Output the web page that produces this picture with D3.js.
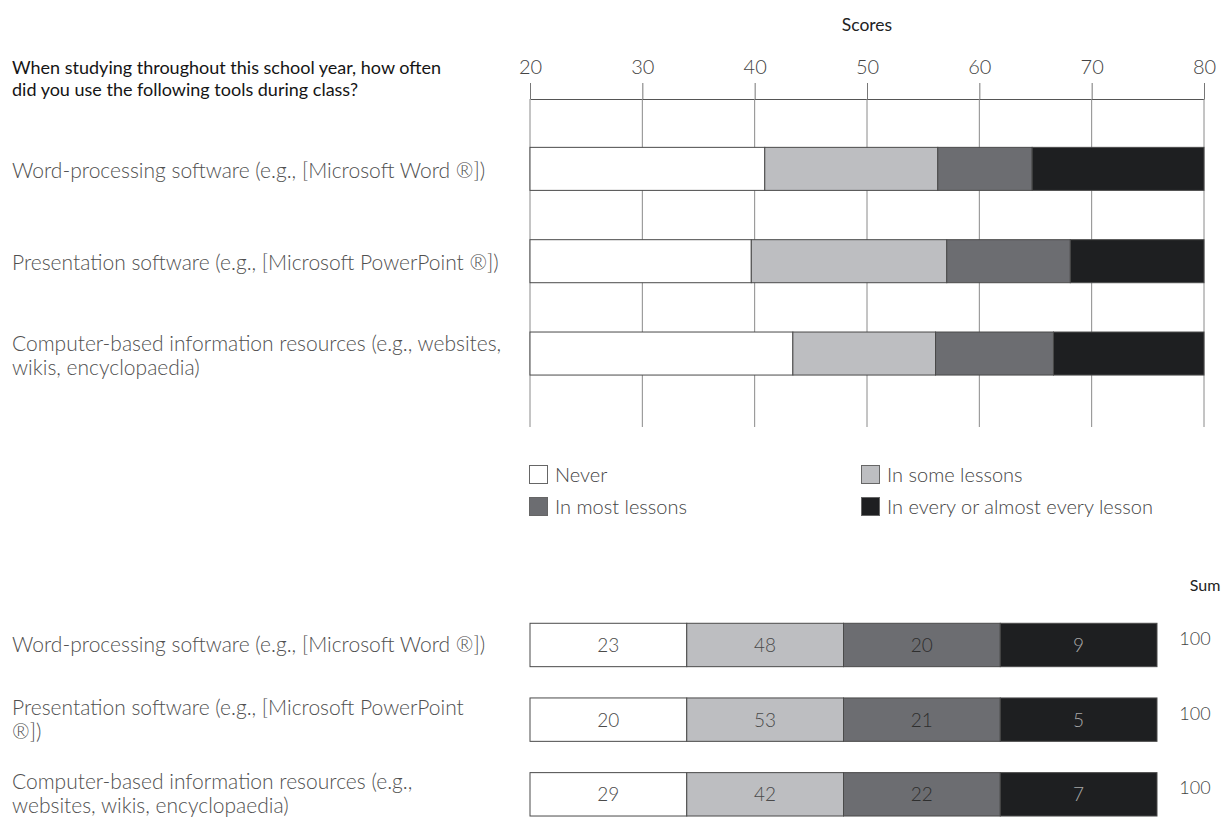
<!DOCTYPE html>
<html><head><meta charset="utf-8">
<script src="https://cdn.jsdelivr.net/npm/d3@7"></script>
<style>body{margin:0;background:#fff} svg{display:block} text{font-family:Lato,"Noto Sans",sans-serif}</style>
</head><body><svg id="c" width="1226" height="819"></svg>
<script>
// ---- data ----
const categories = ["Word-processing", "Presentation", "Computer-based"];
const topLabels = [
  ["Word-processing software (e.g., [Microsoft Word ®])"],
  ["Presentation software (e.g., [Microsoft PowerPoint ®])"],
  ["Computer-based information resources (e.g., websites,", "wikis, encyclopaedia)"]
];
const bottomLabels = [
  ["Word-processing software (e.g., [Microsoft Word ®])"],
  ["Presentation software (e.g., [Microsoft PowerPoint", "®])"],
  ["Computer-based information resources (e.g.,", "websites, wikis, encyclopaedia)"]
];
const responses = ["Never", "In some lessons", "In most lessons", "In every or almost every lesson"];
const scoreNever = [40.9, 39.7, 43.4];
const scoreSome  = [56.3, 57.1, 56.1];
const scoreMost  = [64.7, 68.1, 66.6];
const scoreEvery = [80, 80, 80];
const pctNever = [23, 20, 29];
const pctSome  = [48, 53, 42];
const pctMost  = [20, 21, 22];
const pctEvery = [9, 5, 7];
const sums = [100, 100, 100];
const scoreTicks = [20, 30, 40, 50, 60, 70, 80];
const title = ["When studying throughout this school year, how often", "did you use the following tools during class?"];
const axisTitle = "Scores";
const sumTitle = "Sum";

// ---- styles ----
const fills = ["#ffffff", "#bdbec1", "#6c6d71", "#1e1f21"];
const pctText = ["#4a4a4a", "#4a4a4a", "#2e2e2e", "#a8a8a8"];
const labelColor = "#505050";

const svg = d3.select("#c");

// ---- top chart ----
const x = d3.scaleLinear().domain([20, 80]).range([530, 1204]);
const y = d3.scaleBand().domain(categories).range([122.7, 399.7]).paddingInner(0.534).paddingOuter(0.267);
const axisY = 99, gridBottom = 427;

svg.append("text").attr("x", (x(20) + x(80)) / 2).attr("y", 31).attr("text-anchor", "middle")
  .attr("font-size", 17.5).attr("fill", "#222").text(axisTitle);

const gAxis = svg.append("g").attr("transform", `translate(0,${axisY})`)
  .call(d3.axisTop(x).tickValues(scoreTicks).tickSize(16).tickSizeOuter(0).tickPadding(9));
gAxis.select(".domain").attr("stroke", "#555");
gAxis.selectAll(".tick line").attr("stroke", "#777");
gAxis.selectAll(".tick text").attr("font-family", "Lato").attr("font-weight", 300)
  .attr("font-size", 20).attr("fill", "#444");

svg.append("g").selectAll("line").data(scoreTicks).join("line")
  .attr("x1", d => x(d)).attr("x2", d => x(d)).attr("y1", axisY).attr("y2", gridBottom)
  .attr("stroke", "#8a8a8a").attr("stroke-width", 1);

const ends = [scoreNever, scoreSome, scoreMost, scoreEvery];
const segs = [];
categories.forEach((c, i) => {
  let start = x.domain()[0];
  ends.forEach((arr, k) => {
    segs.push({c, k, s: start, e: arr[i]});
    start = arr[i];
  });
});
svg.append("g").selectAll("rect").data(segs).join("rect")
  .attr("x", d => x(d.s)).attr("width", d => x(d.e) - x(d.s))
  .attr("y", d => y(d.c)).attr("height", y.bandwidth())
  .attr("fill", d => fills[d.k]).attr("stroke", "#4a4a4a").attr("stroke-width", 1);

svg.append("text").attr("font-size", 18).attr("fill", "#151515")
  .selectAll("tspan").data(title).join("tspan").attr("x", 12).attr("y", (d, i) => 74 + i * 22).text(d => d);

function labelBlock(g, lines, cy, lh) {
  const t = g.append("text").attr("x", 12).attr("font-size", 21).attr("font-weight", 300).attr("fill", labelColor);
  const y0 = cy - (lines.length - 1) * lh / 2 + 7;
  lines.forEach((l, j) => t.append("tspan").attr("x", 12).attr("y", y0 + j * lh).text(l));
}
const gl = svg.append("g");
categories.forEach((c, i) => labelBlock(gl, topLabels[i], y(c) + y.bandwidth() / 2 + 2, 24));

// ---- legend ----
const legendPos = [[529, 475], [861, 475], [529, 507], [861, 507]];
const lg = svg.append("g").selectAll("g").data(responses).join("g")
  .attr("transform", (d, i) => `translate(${legendPos[i][0]},${legendPos[i][1]})`);
lg.append("rect").attr("x", 0.5).attr("y", -9.5).attr("width", 18).attr("height", 18)
  .attr("fill", (d, i) => fills[i]).attr("stroke", "#666");
lg.append("text").attr("x", 26).attr("y", 7).attr("font-size", 20).attr("font-weight", 300)
  .attr("fill", "#444").text(d => d);

// ---- bottom chart ----
const xb = d3.scaleBand().domain(responses).range([530, 1157]);
const yb = d3.scaleBand().domain(categories).range([607.6, 831.7]).paddingInner(0.419).paddingOuter(0.21);
const pcts = [pctNever, pctSome, pctMost, pctEvery];
const cells = [];
categories.forEach((c, i) => responses.forEach((r, k) => cells.push({c, r, k, v: pcts[k][i]})));
const gc = svg.append("g").selectAll("g").data(cells).join("g");
gc.append("rect").attr("x", d => xb(d.r)).attr("width", xb.bandwidth())
  .attr("y", d => yb(d.c)).attr("height", yb.bandwidth())
  .attr("fill", d => fills[d.k]).attr("stroke", "#4a4a4a").attr("stroke-width", 1);
gc.append("text").attr("x", d => xb(d.r) + xb.bandwidth() / 2).attr("y", d => yb(d.c) + yb.bandwidth() / 2 + 7)
  .attr("text-anchor", "middle").attr("font-size", 19).attr("font-weight", 300)
  .attr("fill", d => pctText[d.k]).text(d => d.v);

svg.append("text").attr("x", 1205).attr("y", 591).attr("text-anchor", "middle")
  .attr("font-size", 16).attr("fill", "#222").text(sumTitle);
svg.append("g").selectAll("text").data(sums).join("text")
  .attr("x", 1195).attr("y", (d, i) => yb(categories[i]) + yb.bandwidth() / 2 + 0)
  .attr("text-anchor", "middle").attr("font-size", 18).attr("font-weight", 300).attr("fill", "#444").text(d => d);

const gl2 = svg.append("g");
categories.forEach((c, i) => labelBlock(gl2, bottomLabels[i], yb(c) + yb.bandwidth() / 2, 24));
</script></body></html>
